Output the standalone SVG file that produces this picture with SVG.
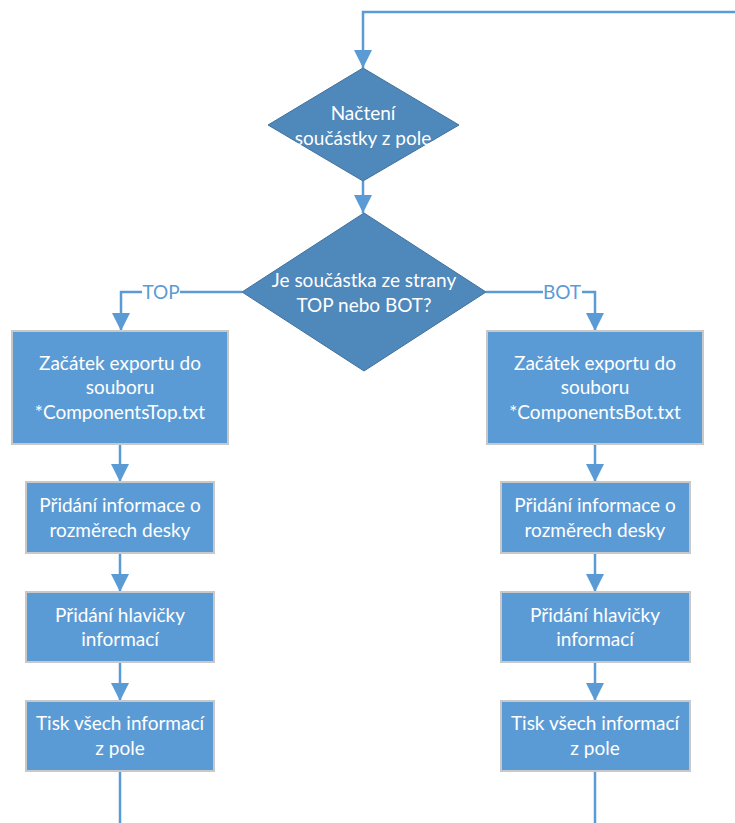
<svg xmlns="http://www.w3.org/2000/svg" width="735" height="823" viewBox="0 0 735 823">
<defs>
<style>
.dia{fill:#4F88BB;stroke:#41719C;stroke-width:1}
.box{fill:#5B9BD5;stroke:#C8C8C8;stroke-width:2}
.t{font-family:Lato,"Open Sans","Liberation Sans",sans-serif;font-size:19px;fill:#FFFFFF;text-anchor:middle}
.lbl{font-family:Lato,"Open Sans","Liberation Sans",sans-serif;font-size:19px;fill:#5B9BD5;text-anchor:middle}
.c{fill:none;stroke:#5B9BD5;stroke-width:2.5}
</style>
<marker id="ah" markerUnits="userSpaceOnUse" markerWidth="18" markerHeight="18" refX="18" refY="9" orient="auto" viewBox="0 0 18 18">
<path d="M0,0 L18,9 L0,18 Z" fill="#5B9BD5"/>
</marker>
</defs>
<rect width="735" height="823" fill="#FFFFFF"/>
<g id="connectors">
<path class="c" d="M735,12 H363 V68" marker-end="url(#ah)"/>
<path class="c" d="M363,181 V213" marker-end="url(#ah)"/>
<path class="c" d="M242,292 H121 V331" marker-end="url(#ah)"/>
<path class="c" d="M486,292 H595 V331" marker-end="url(#ah)"/>
<path class="c" d="M120,444 V482" marker-end="url(#ah)"/>
<path class="c" d="M120,553 V592" marker-end="url(#ah)"/>
<path class="c" d="M120,662 V701" marker-end="url(#ah)"/>
<path class="c" d="M120,771 V823"/>
<path class="c" d="M595,444 V482" marker-end="url(#ah)"/>
<path class="c" d="M595,553 V592" marker-end="url(#ah)"/>
<path class="c" d="M595,662 V701" marker-end="url(#ah)"/>
<path class="c" d="M595,771 V823"/>
<rect x="142" y="281" width="38" height="22" fill="#FFFFFF"/>
<text class="lbl" x="161" y="299">TOP</text>
<rect x="543" y="281" width="39" height="22" fill="#FFFFFF"/>
<text class="lbl" x="562" y="299">BOT</text>
</g>
<g id="n1">
<polygon class="dia" points="363,68 459,125 363,181 268,125"/>
<text class="t" x="363" y="120">Načtení</text>
<text class="t" x="363" y="145">součástky z pole</text>
</g>
<g id="n2">
<polygon class="dia" points="364,213 486,292 364,371 242,292"/>
<text class="t" x="364" y="287">Je součástka ze strany</text>
<text class="t" x="364" y="312">TOP nebo BOT?</text>
</g>
<g id="l1">
<rect class="box" x="12" y="331" width="216" height="113"/>
<text class="t" x="120" y="370">Začátek exportu do</text>
<text class="t" x="120" y="394">souboru</text>
<text class="t" x="120" y="419">*ComponentsTop.txt</text>
</g>
<g id="l2">
<rect class="box" x="26" y="482" width="188" height="71"/>
<text class="t" x="120" y="512">Přidání informace o</text>
<text class="t" x="120" y="537">rozměrech desky</text>
</g>
<g id="l3">
<rect class="box" x="26" y="592" width="188" height="70"/>
<text class="t" x="120" y="622">Přidání hlavičky</text>
<text class="t" x="120" y="646">informací</text>
</g>
<g id="l4">
<rect class="box" x="26" y="701" width="188" height="70"/>
<text class="t" x="120" y="730">Tisk všech informací</text>
<text class="t" x="120" y="755">z pole</text>
</g>
<g id="r1">
<rect class="box" x="487" y="331" width="216" height="113"/>
<text class="t" x="595" y="370">Začátek exportu do</text>
<text class="t" x="595" y="394">souboru</text>
<text class="t" x="595" y="419">*ComponentsBot.txt</text>
</g>
<g id="r2">
<rect class="box" x="501" y="482" width="189" height="71"/>
<text class="t" x="595" y="512">Přidání informace o</text>
<text class="t" x="595" y="537">rozměrech desky</text>
</g>
<g id="r3">
<rect class="box" x="501" y="592" width="189" height="70"/>
<text class="t" x="595" y="622">Přidání hlavičky</text>
<text class="t" x="595" y="646">informací</text>
</g>
<g id="r4">
<rect class="box" x="501" y="701" width="189" height="70"/>
<text class="t" x="595" y="730">Tisk všech informací</text>
<text class="t" x="595" y="755">z pole</text>
</g>
</svg>
